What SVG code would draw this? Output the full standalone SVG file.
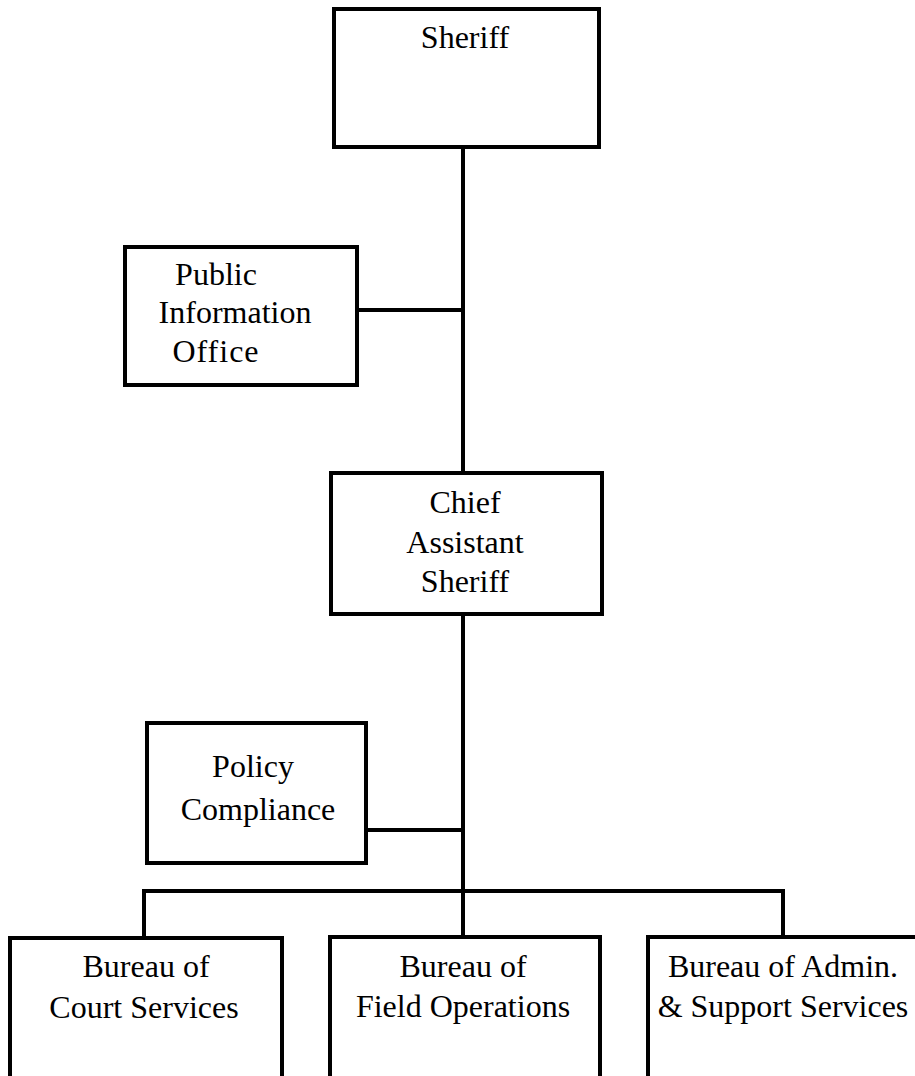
<svg xmlns="http://www.w3.org/2000/svg" width="915" height="1076" viewBox="0 0 915 1076">
<style>
.box{fill:#fff;stroke:#000;stroke-width:4}
.ln{fill:none;stroke:#000;stroke-width:4}
text{font-family:"Liberation Serif","Times New Roman",serif;font-size:32px;fill:#000;text-anchor:middle}
</style>
<rect width="915" height="1076" fill="#fff"/>
<g id="connectors">
<line class="ln" x1="463" y1="147" x2="463" y2="473"/>
<line class="ln" x1="357" y1="310" x2="463" y2="310"/>
<line class="ln" x1="463" y1="614" x2="463" y2="937"/>
<line class="ln" x1="366" y1="830" x2="463" y2="830"/>
<polyline class="ln" points="144,938 144,891 783,891 783,937"/>
</g>
<g id="sheriff">
<rect class="box" x="334" y="9" width="265" height="138"/>
<text x="465" y="48">Sheriff</text>
</g>
<g id="pio">
<rect class="box" x="125" y="247" width="232" height="138"/>
<text x="216" y="285">Public</text>
<text x="235" y="323">Information</text>
<text x="216" y="362" letter-spacing="1">Office</text>
</g>
<g id="chief">
<rect class="box" x="331" y="473" width="271" height="141"/>
<text x="465" y="513">Chief</text>
<text x="465" y="553">Assistant</text>
<text x="465" y="592">Sheriff</text>
</g>
<g id="policy">
<rect class="box" x="147" y="723" width="219" height="140"/>
<text x="253" y="777">Policy</text>
<text x="258" y="820">Compliance</text>
</g>
<g id="court">
<rect class="box" x="10" y="938" width="272" height="160"/>
<text x="146" y="977">Bureau of</text>
<text x="144" y="1018">Court Services</text>
</g>
<g id="field">
<rect class="box" x="330" y="937" width="270" height="160"/>
<text x="463" y="977">Bureau of</text>
<text x="463" y="1017">Field Operations</text>
</g>
<g id="admin">
<rect class="box" x="648" y="937" width="280" height="160"/>
<text x="783" y="977">Bureau of Admin.</text>
<text x="783" y="1017">&amp; Support Services</text>
</g>
</svg>
